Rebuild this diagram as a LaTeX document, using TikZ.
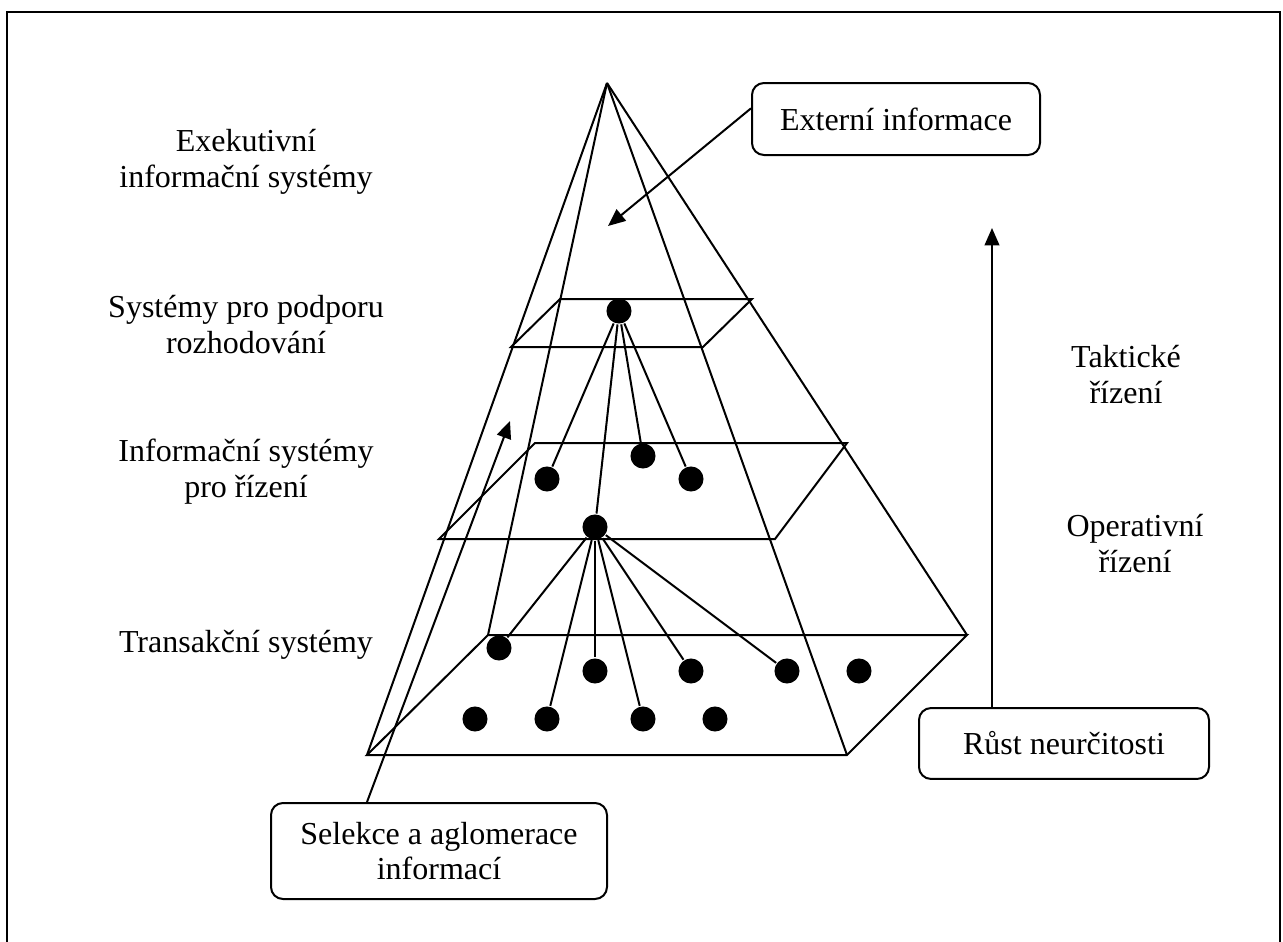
\documentclass[tikz,border=0pt]{standalone}
\usepackage{fontspec}
\setmainfont{Liberation Serif}
\usetikzlibrary{arrows.meta}
\tikzset{
  lbl/.style={align=center, anchor=base, inner sep=0pt, font=\fontsize{12}{13.4}\selectfont},
  infobox/.style={draw, rounded corners=4.5pt, align=center, inner sep=0pt, font=\fontsize{12}{13.4}\selectfont},
  dot/.style={circle, fill, inner sep=0pt, minimum size=9.4pt},
  arr/.style={-{Triangle[length=6.5pt,width=5.5pt]}},
}
\begin{document}
\begin{tikzpicture}[x=0.375pt, y=-0.375pt, line width=0.75pt]
        \useasboundingbox (0,0) rectangle (1283,942);
        \draw[line width=1pt] (7,942) -- (7,12) -- (1280,12) -- (1280,942);

        \node(L1) [lbl] at (246,187) {Exekutivní\\informační systémy};
        \node(L2) [lbl] at (246,353) {Systémy pro podporu\\rozhodování};
        \node(L3) [lbl] at (246,497) {Informační systémy\\pro řízení};
        \node(L4) [lbl] at (246,652) {Transakční systémy};
        \node(R1) [lbl] at (1126,403) {Taktické\\řízení};
        \node(R2) [lbl] at (1135,572) {Operativní\\řízení};

        \coordinate(P0) at (607,83);
        \coordinate(B1) at (367,755);
        \coordinate(B2) at (488,635);
        \coordinate(B3) at (967,635);
        \coordinate(B4) at (847,755);
        \draw(P0) -- (B1);
        \draw(P0) -- (B2);
        \draw(P0) -- (B3);
        \draw(P0) -- (B4);
        \draw(B1) -- (B2) -- (B3) -- (B4) -- cycle;
        \draw(511,347) -- (560,299) -- (752,299) -- (703,347) -- cycle;
        \draw(439,539) -- (535,443) -- (847,443) -- (775,539) -- cycle;

        \node(D1) [dot] at (619,311) {};
        \node(M1) [dot] at (547,479) {};
        \node(M2) [dot] at (643,456) {};
        \node(M3) [dot] at (691,479) {};
        \node(M4) [dot] at (595,527) {};
        \node(T1) [dot] at (499,648) {};
        \node(T2) [dot] at (595,671) {};
        \node(T3) [dot] at (691,671) {};
        \node(T4) [dot] at (787,671) {};
        \node(T5) [dot] at (859,671) {};
        \node(T6) [dot] at (475,719) {};
        \node(T7) [dot] at (547,719) {};
        \node(T8) [dot] at (643,719) {};
        \node(T9) [dot] at (715,719) {};
        \draw(D1) -- (M1);
        \draw(D1) -- (M2);
        \draw(D1) -- (M3);
        \draw(D1) -- (M4);
        \draw(M4) -- (T1);
        \draw(M4) -- (T2);
        \draw(M4) -- (T3);
        \draw(M4) -- (T4);
        \draw(M4) -- (T7);
        \draw(M4) -- (T8);

        \node(E) [infobox, minimum width=108pt, minimum height=27pt] at (896,119) {Externí informace};
        \node(S) [infobox, minimum width=126pt, minimum height=36pt] at (439,851) {Selekce a aglomerace\\informací};
        \node(U) [infobox, minimum width=108.75pt, minimum height=26.6pt] at (1064,743.5) {Růst neurčitosti};
        \coordinate(Etip) at (608,226);
        \coordinate(Stip) at (510,421);
        \coordinate(Utip) at (992,228);
        \draw[arr] ([yshift=4pt]E.west) -- (Etip);
        \draw[arr] ([xshift=-27pt]S.north) -- (Stip);
        \draw[arr] (U.north -| Utip) -- (Utip);
    \end{tikzpicture}
\end{document}
